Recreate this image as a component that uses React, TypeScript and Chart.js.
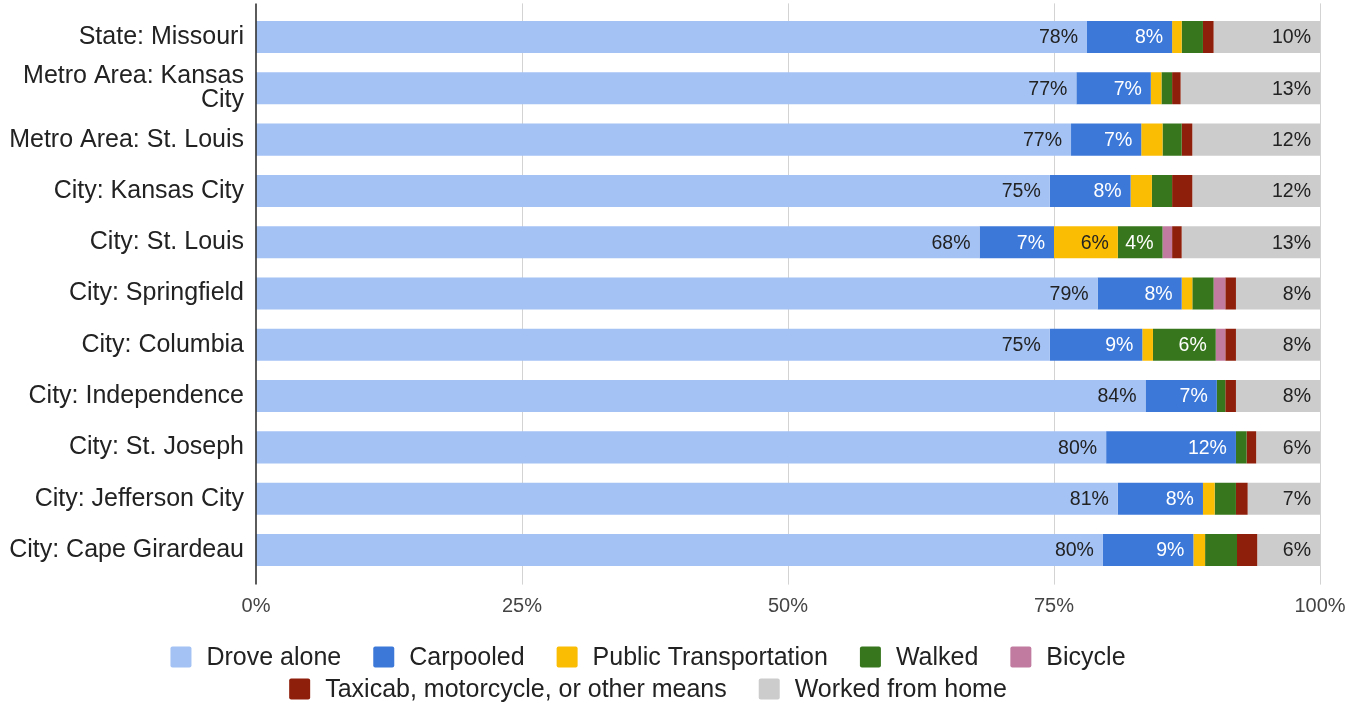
import React, { useEffect, useRef } from 'react';
import { Chart, registerables } from 'chart.js';

Chart.register(...registerables);

const categories: (string | string[])[] = [
  'State: Missouri',
  ['Metro Area: Kansas', 'City'],
  'Metro Area: St. Louis',
  'City: Kansas City',
  'City: St. Louis',
  'City: Springfield',
  'City: Columbia',
  'City: Independence',
  'City: St. Joseph',
  'City: Jefferson City',
  'City: Cape Girardeau',
];

const droveAlone = [78.1, 77.1, 76.6, 74.6, 68.0, 79.1, 74.6, 83.6, 79.9, 81.0, 79.6];
const carpooled = [8.0, 7.0, 6.6, 7.6, 7.0, 7.9, 8.7, 6.7, 12.2, 8.0, 8.5];
const publicTransportation = [0.9, 1.0, 2.0, 2.0, 6.0, 1.0, 1.0, 0.0, 0.0, 1.1, 1.1];
const walked = [2.0, 1.0, 1.8, 1.9, 4.2, 2.0, 5.9, 0.8, 1.0, 2.0, 3.0];
const bicycle = [0.0, 0.0, 0.0, 0.0, 0.9, 1.1, 0.9, 0.0, 0.0, 0.0, 0.0];
const taxiOther = [1.0, 0.8, 1.0, 1.9, 0.9, 1.0, 1.0, 1.0, 0.9, 1.1, 1.9];
const workedFromHome = [10.0, 13.1, 12.0, 12.0, 13.0, 7.9, 7.9, 7.9, 6.0, 6.8, 5.9];

const seriesNames = [
  'Drove alone',
  'Carpooled',
  'Public Transportation',
  'Walked',
  'Bicycle',
  'Taxicab, motorcycle, or other means',
  'Worked from home',
];
const seriesValues = [droveAlone, carpooled, publicTransportation, walked, bicycle, taxiOther, workedFromHome];
const seriesColors = ['#a4c2f4', '#3c78d8', '#fbbc04', '#38761d', '#c27ba0', '#8e1f0b', '#cccccc'];
const labelColors = ['#222222', '#ffffff', '#222222', '#ffffff', '#222222', '#ffffff', '#222222'];
const xTicks = [0, 25, 50, 75, 100];

const FONT = '"Liberation Sans", Arial, Helvetica, sans-serif';

const gridPlugin = {
  id: 'extGrid',
  beforeDatasetsDraw(chart: any) {
    const { ctx, chartArea, scales } = chart;
    const x = scales.x;
    const top = chartArea.top - 8;
    const bottom = chartArea.bottom + 9;
    ctx.save();
    ctx.strokeStyle = '#d3d3d3';
    ctx.lineWidth = 1;
    xTicks.forEach((v) => {
      if (v === 0) return;
      const px = Math.round(x.getPixelForValue(v)) + 0.5;
      ctx.beginPath();
      ctx.moveTo(px, top);
      ctx.lineTo(px, bottom);
      ctx.stroke();
    });
    ctx.restore();
  },
  afterDatasetsDraw(chart: any) {
    const { ctx, chartArea, scales } = chart;
    const x = scales.x;
    const top = chartArea.top - 8;
    const bottom = chartArea.bottom + 9;
    ctx.save();
    ctx.strokeStyle = '#333333';
    ctx.lineWidth = 1.6;
    const px = x.getPixelForValue(0);
    ctx.beginPath();
    ctx.moveTo(px, top);
    ctx.lineTo(px, bottom);
    ctx.stroke();

    ctx.font = `19.5px ${FONT}`;
    ctx.textAlign = 'right';
    ctx.textBaseline = 'middle';
    chart.data.datasets.forEach((ds: any, di: number) => {
      const meta = chart.getDatasetMeta(di);
      meta.data.forEach((bar: any, i: number) => {
        const v = ds.data[i];
        if (v < 4) return;
        ctx.fillStyle = labelColors[di];
        ctx.fillText(Math.round(v) + '%', bar.x - 9, bar.y + 1);
      });
    });
    ctx.restore();
  },
};

const legendPlugin = {
  id: 'customLegend',
  afterDraw(chart: any) {
    const { ctx } = chart;
    const fontSize = 25;
    const box = 21;
    const boxGap = 15;
    const itemGap = 32;
    const maxRow = 1100;
    const centerX = 648;
    const rowY = [657, 689];
    ctx.save();
    ctx.font = `${fontSize}px ${FONT}`;
    const items = chart.data.datasets.map((ds: any, i: number) => {
      const tw = ctx.measureText(ds.label).width;
      return { label: ds.label, color: seriesColors[i], w: box + boxGap + tw };
    });
    const rows: any[][] = [[]];
    let rowW = 0;
    items.forEach((it: any) => {
      const add = (rows[rows.length - 1].length ? itemGap : 0) + it.w;
      if (rows[rows.length - 1].length && rowW + add > maxRow) {
        rows.push([it]);
        rowW = it.w;
      } else {
        rows[rows.length - 1].push(it);
        rowW += add;
      }
    });
    rows.forEach((row, r) => {
      const total = row.reduce((s, it, k) => s + it.w + (k ? itemGap : 0), 0);
      let cx = centerX - total / 2;
      const cy = rowY[r] ?? rowY[0] + r * 32;
      row.forEach((it) => {
        ctx.fillStyle = it.color;
        ctx.beginPath();
        if (ctx.roundRect) ctx.roundRect(cx, cy - box / 2, box, box, 2);
        else ctx.rect(cx, cy - box / 2, box, box);
        ctx.fill();
        ctx.fillStyle = '#222222';
        ctx.textAlign = 'left';
        ctx.textBaseline = 'middle';
        ctx.fillText(it.label, cx + box + boxGap, cy + 1);
        cx += it.w + itemGap;
      });
    });
    ctx.restore();
  },
};

export default function App() {
  const canvasRef = useRef<HTMLCanvasElement | null>(null);

  useEffect(() => {
    document.body.style.margin = '0';
    const canvas = canvasRef.current;
    if (!canvas) return;
    const chart = new Chart(canvas, {
      type: 'bar',
      data: {
        labels: categories as any,
        datasets: seriesNames.map((name, i) => ({
          label: name,
          data: seriesValues[i],
          backgroundColor: seriesColors[i],
          borderWidth: 0,
          categoryPercentage: 1,
          barPercentage: 0.624,
        })),
      },
      options: {
        indexAxis: 'y',
        animation: false,
        responsive: true,
        maintainAspectRatio: false,
        layout: { padding: { top: 11.4, right: 29, bottom: 66.6, left: 0 } },
        plugins: {
          legend: { display: false },
          tooltip: { enabled: false },
        },
        scales: {
          x: {
            stacked: true,
            min: 0,
            max: 100,
            grid: { display: false, drawTicks: false },
            border: { display: false },
            ticks: {
              stepSize: 25,
              padding: 18.4,
              color: '#444444',
              font: { family: FONT, size: 20 },
              callback: (v: any) => v + '%',
            },
            afterFit: (scale: any) => {
              scale.paddingLeft = 0;
              scale.paddingRight = 0;
            },
          },
          y: {
            stacked: true,
            grid: { display: false, drawTicks: false },
            border: { display: false },
            ticks: {
              autoSkip: false,
              padding: 12,
              color: '#222222',
              font: { family: FONT, size: 25, lineHeight: 0.96 },
            },
            afterFit: (scale: any) => {
              scale.width = 256;
              scale.paddingTop = 0;
              scale.paddingBottom = 0;
            },
          },
        },
      } as any,
      plugins: [gridPlugin, legendPlugin],
    });
    return () => chart.destroy();
  }, []);

  return (
    <div style={{ position: 'fixed', left: 0, top: 0, width: 1349, height: 703, background: '#fff' }}>
      <canvas ref={canvasRef} />
    </div>
  );
}
